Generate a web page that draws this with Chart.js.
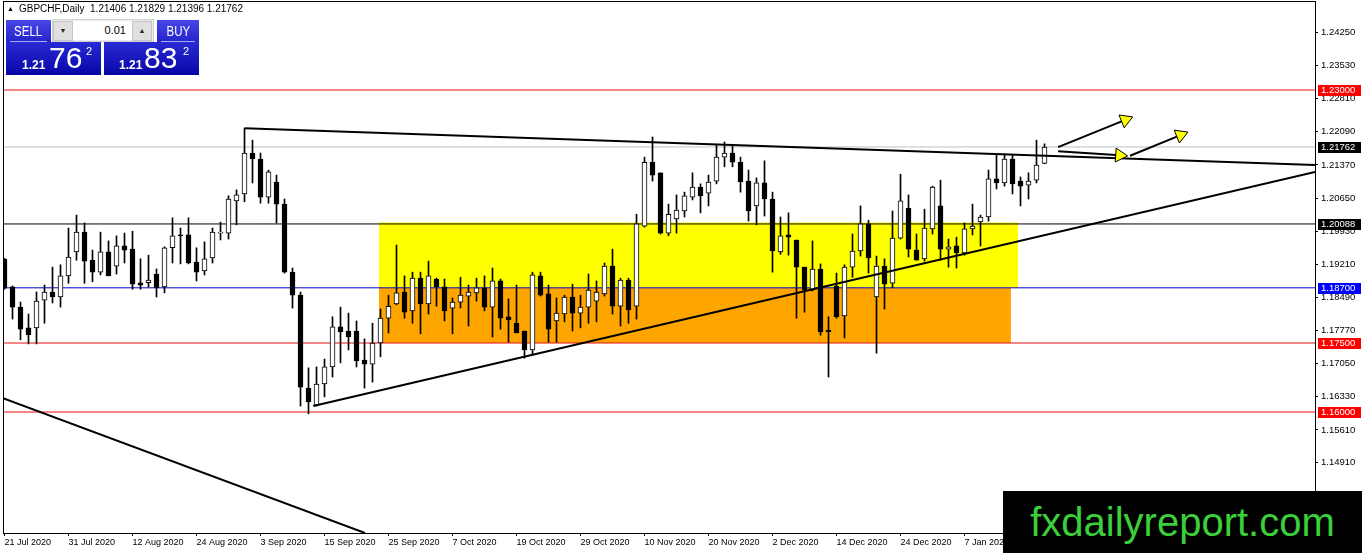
<!DOCTYPE html>
<html lang="en">
<head>
<meta charset="UTF-8">
<title>GBPCHF Daily</title>
<script src="https://cdn.jsdelivr.net/npm/chart.js@4.4.1/dist/chart.umd.min.js"></script>
<style>
    body { margin: 0; background: #fff; font-family: "Liberation Sans", Arial, sans-serif; }
    #wrap { position: relative; width: 1362px; height: 553px; overflow: hidden; }
    #chart { position: absolute; left: 0; top: 0; }
    #caption { position: absolute; left: 7px; top: 3px; font-size: 10px; color: #000; white-space: nowrap; }
    #caption .tri { font-size: 7px; margin-right: 5px; vertical-align: 1px; }
    .lbl { position: absolute; top: 20px; height: 22px; color: #fff; font-size: 14px; line-height: 22px;
           text-align: center; background: linear-gradient(#4646e8, #2424cc); }
    .lbl span { display: inline-block; transform: scaleX(0.82); }
    .lbl::after { content: ''; position: absolute; left: 4px; right: 4px; bottom: 0; height: 1px; background: #a8a8f0; }
    #sellLbl { left: 6px; width: 45px; }
    #buyLbl { left: 157px; width: 42px; }
    #lot { position: absolute; left: 52px; top: 19px; width: 100px; height: 21px; background: #ececec; border: 1px solid #d0d0d0; }
    #lot .arr { position: absolute; top: 1px; width: 18px; height: 18px; background: #e0e0e0; border: 1px solid #c4c4c4;
                font-size: 7px; line-height: 18px; text-align: center; color: #222; }
    #lot .dn { left: 0px; }
    #lot .up { left: 79px; }
    #lot .val { position: absolute; left: 20px; top: 1px; width: 59px; height: 19px; background: #fff; font-size: 11px;
                line-height: 19px; text-align: right; padding-right: 6px; box-sizing: border-box; color: #000; }
    .px { position: absolute; top: 42px; width: 95px; height: 33px; background: linear-gradient(#2a2ad6, #0606a6); color: #fff; }
    #sellPx { left: 6px; }
    #buyPx { left: 104px; }
    .px div { position: absolute; line-height: 1; white-space: nowrap; }
    .px .small { font-size: 12px; font-weight: bold; top: 17px; }
    .px .big { font-size: 30px; top: 1px; }
    .px .sup { font-size: 11px; top: 4px; }
    #mark { position: absolute; left: 1003px; top: 491px; width: 359px; height: 62px; background: #000;
            color: #3ccf3c; font-size: 40px; line-height: 62px; text-align: center; }
</style>
</head>
<body>
<div id="wrap">
    <canvas id="chart" width="1362" height="553"></canvas>
    <div id="caption"><span class="tri">&#9650;</span>GBPCHF,Daily&nbsp; 1.21406 1.21829 1.21396 1.21762</div>
    <div class="lbl" id="sellLbl"><span>SELL</span></div>
    <div id="lot"><div class="arr dn">&#9660;</div><div class="val">0.01</div><div class="arr up">&#9650;</div></div>
    <div class="lbl" id="buyLbl"><span>BUY</span></div>
    <div class="px" id="sellPx"><div class="small" style="left:16px">1.21</div><div class="big" style="left:43px">76</div><div class="sup" style="left:80px">2</div></div>
    <div class="px" id="buyPx"><div class="small" style="left:15px">1.21</div><div class="big" style="left:40px">83</div><div class="sup" style="left:79px">2</div></div>
    <div id="mark">fxdailyreport.com</div>
</div>

<script type="text/javascript">
// date labels under the axis, one every 8 bars
var dateLabels = ["21 Jul 2020", "31 Jul 2020", "12 Aug 2020", "24 Aug 2020", "3 Sep 2020", "15 Sep 2020",
    "25 Sep 2020", "7 Oct 2020", "19 Oct 2020", "29 Oct 2020", "10 Nov 2020", "20 Nov 2020",
    "2 Dec 2020", "14 Dec 2020", "24 Dec 2020", "7 Jan 2021"];
var dateIdx = [0, 8, 16, 24, 32, 40, 48, 56, 64, 72, 80, 88, 96, 104, 112, 120];

// price scale labels
var priceTicks = [1.24250, 1.23530, 1.22810, 1.22090, 1.21370, 1.20650, 1.19930, 1.19210,
    1.18490, 1.17770, 1.17050, 1.16330, 1.15610, 1.14910];

// daily candles (bar 0 = 21 Jul 2020)
var openP = [1.1932,1.1872,1.1828,1.1783,1.1783,1.1843,1.1861,1.1850,1.1896,1.1948,
    1.1991,1.1930,1.1904,1.1948,1.1917,1.1961,1.1954,1.1881,1.1881,1.1900,
    1.1872,1.1957,1.1985,1.1985,1.1926,1.1907,1.1935,1.1989,1.1989,1.2059,
    1.2074,1.2163,1.2150,1.2067,1.2100,1.2052,1.1904,1.1854,1.1652,1.1615,
    1.1661,1.1698,1.1785,1.1776,1.1776,1.1713,1.1704,1.1750,1.1804,1.1835,
    1.1861,1.1820,1.1891,1.1835,1.1889,1.1872,1.1826,1.1839,1.1852,1.1859,
    1.1870,1.1828,1.1885,1.1807,1.1793,1.1776,1.1735,1.1896,1.1857,1.1798,
    1.1813,1.1850,1.1815,1.1828,1.1841,1.1857,1.1917,1.1830,1.1887,1.1830,
    1.2004,1.2143,1.2120,1.1989,1.2020,1.2037,1.2067,1.2089,1.2076,1.2102,
    1.2154,1.2163,1.2143,1.2102,1.2048,1.2098,1.2063,1.1948,1.1985,1.1974,
    1.1915,1.1867,1.1911,1.1778,1.1874,1.1809,1.1915,1.1950,1.2009,1.1850,
    1.1917,1.1880,1.1978,1.2043,1.1952,1.1933,1.1998,1.2048,1.1954,1.1961,
    1.1946,1.1998,1.2013,1.2024,1.2107,1.2098,1.2150,1.2102,1.2093,1.2104,
    1.21406];
var highP = [1.1934,1.1874,1.1839,1.1813,1.1861,1.1876,1.1915,1.1920,1.2000,1.2028,
    1.2011,1.1952,1.1991,1.1972,1.1983,1.1989,1.1993,1.1933,1.1941,1.1911,
    1.1959,1.2022,1.2000,1.2022,1.1957,1.1970,1.2000,1.2013,1.2070,1.2083,
    1.2217,1.2191,1.2163,1.2126,1.2115,1.2063,1.1913,1.1861,1.1696,1.1698,
    1.1715,1.1807,1.1828,1.1815,1.1798,1.1759,1.1793,1.1824,1.1854,1.1963,
    1.1896,1.1904,1.1904,1.1928,1.1891,1.1889,1.1848,1.1893,1.1876,1.1891,
    1.1896,1.1913,1.1889,1.1846,1.1876,1.1776,1.1904,1.1904,1.1876,1.1848,
    1.1854,1.1878,1.1854,1.1900,1.1885,1.1924,1.1954,1.1891,1.1891,1.2030,
    1.2154,1.2198,1.2120,1.2052,1.2072,1.2078,1.2120,1.2096,1.2115,1.2180,
    1.2187,1.2180,1.2154,1.2126,1.2109,1.2146,1.2078,1.2024,1.2033,1.1974,
    1.1915,1.1972,1.1922,1.1807,1.1902,1.1920,1.1987,1.2048,1.2017,1.1939,
    1.1933,1.2037,1.2117,1.2072,1.1987,1.2041,1.2091,1.2104,1.1976,1.1980,
    1.2011,1.2052,1.2028,1.2126,1.2161,1.2161,1.2159,1.2111,1.2120,1.2191,
    1.21829];
var lowP = [1.1867,1.1802,1.1757,1.1748,1.1748,1.1793,1.1837,1.1828,1.1880,1.1930,
    1.1880,1.1883,1.1898,1.1896,1.1900,1.1924,1.1867,1.1867,1.1872,1.1850,
    1.1859,1.1924,1.1922,1.1922,1.1885,1.1898,1.1924,1.1974,1.1976,1.2007,
    1.2057,1.2098,1.2054,1.2054,1.2011,1.1902,1.1826,1.1613,1.1596,1.1613,
    1.1633,1.1676,1.1707,1.1735,1.1698,1.1652,1.1665,1.1720,1.1772,1.1833,
    1.1804,1.1793,1.1770,1.1813,1.1830,1.1798,1.1770,1.1826,1.1787,1.1841,
    1.1820,1.1763,1.1780,1.1752,1.1772,1.1717,1.1726,1.1852,1.1752,1.1752,
    1.1796,1.1776,1.1783,1.1793,1.1796,1.1852,1.1813,1.1787,1.1793,1.1802,
    1.2002,1.2102,1.1987,1.1983,1.1989,1.2024,1.2061,1.2033,1.2048,1.2096,
    1.2133,1.2133,1.2078,1.2015,1.2007,1.2026,1.1904,1.1943,1.1941,1.1804,
    1.1817,1.1863,1.1767,1.1676,1.1804,1.1761,1.1893,1.1939,1.1902,1.1728,
    1.1824,1.1870,1.1976,1.1937,1.1930,1.1928,1.1987,1.1930,1.1915,1.1913,
    1.1941,1.1985,1.1961,1.2015,1.2085,1.2091,1.2074,1.2048,1.2063,1.2098,
    1.21396];
var closeP = [1.1869,1.1828,1.1780,1.1768,1.1841,1.1861,1.1850,1.1896,1.1937,1.1991,
    1.1928,1.1904,1.1948,1.1896,1.1961,1.1952,1.1878,1.1876,1.1887,1.1870,
    1.1957,1.1983,1.1983,1.1924,1.1904,1.1933,1.1991,1.1991,1.2063,1.2072,
    1.2163,1.2150,1.2067,1.2122,1.2052,1.1904,1.1854,1.1654,1.1622,1.1661,
    1.1698,1.1785,1.1774,1.1763,1.1711,1.1704,1.1750,1.1804,1.1830,1.1859,
    1.1817,1.1891,1.1835,1.1896,1.1872,1.1820,1.1839,1.1854,1.1861,1.1870,
    1.1828,1.1885,1.1804,1.1800,1.1772,1.1735,1.1898,1.1854,1.1780,1.1815,
    1.1850,1.1815,1.1828,1.1865,1.1861,1.1917,1.1830,1.1887,1.1822,1.2009,
    1.2143,1.2115,1.1989,1.2030,1.2039,1.2070,1.2089,1.2070,1.2100,1.2154,
    1.2163,1.2143,1.2100,1.2037,1.2098,1.2063,1.1950,1.1983,1.1980,1.1915,
    1.1865,1.1911,1.1774,1.1774,1.1807,1.1915,1.1950,1.2009,1.1935,1.1917,
    1.1878,1.1978,1.2059,1.1954,1.1930,1.2000,1.2089,1.1954,1.1959,1.1946,
    1.1998,1.2004,1.2024,1.2107,1.2098,1.2150,1.2096,1.2091,1.2102,1.2137,
    1.21762];

// horizontal levels
var levelValues = [1.23000, 1.21762, 1.20088, 1.18700, 1.17500, 1.16000];
var levelColors = ["#e81010", "#c0c0c0", "#000000", "#0000c8", "#e81010", "#e81010"];
var tagColors = ["#ff0000", "#000000", "#000000", "#0000ff", "#ff0000", "#ff0000"];

// rectangles: yellow and orange zones
var zoneFrom = [46.8, 46.8];
var zoneTo = [126.7, 125.8];
var zoneTop = [1.2012, 1.1870];
var zoneBottom = [1.1870, 1.1750];
var zoneColors = ["#ffff00", "#ffa500"];

// trend lines [bar1, price1, bar2, price2]
var xMin = -0.1875, xMax = 163.8125;
var trendLines = [
    [30, 1.2217, xMax, 1.2137],
    [38.6, 1.1613, xMax, 1.2122],
    [xMin, 1.1630, 45.06, 1.1337]
];

// arrows [bar1, price1, bar2, price2]
var arrows = [
    [131.7, 1.2176, 140.1, 1.2235],
    [131.7, 1.2167, 139.4, 1.2158],
    [140.7, 1.2157, 147.0, 1.2202]
];
var arrowTurn = [68, 94, 68];

var datasets = [];

//zone rectangles, drawn first
for (var z = 0; z < zoneFrom.length; z++) {
    datasets.push({
        type: 'line',
        data: [{x: zoneFrom[z], y: zoneTop[z]}, {x: zoneTo[z], y: zoneTop[z]}],
        borderWidth: 0,
        pointRadius: 0,
        backgroundColor: zoneColors[z],
        fill: {value: zoneBottom[z]},
        order: 100 - z
    });
}

for (var k = 0; k < levelValues.length; k++) {
    datasets.push({
        type: 'line',
        data: [{x: xMin, y: levelValues[k]}, {x: xMax, y: levelValues[k]}],
        borderColor: levelColors[k],
        borderWidth: 1,
        pointRadius: 0,
        fill: false,
        order: 80
    });
}

var wicks = [], bodies = [], bodyColors = [];
for (var i = 0; i < openP.length; i++) {
    wicks.push({x: i, y: [lowP[i], highP[i]]});
    bodies.push({x: i, y: [openP[i], closeP[i]]});
    bodyColors.push(closeP[i] >= openP[i] ? "#ffffff" : "#000000");
}
datasets.push({
    type: 'bar', data: wicks, backgroundColor: "#000", borderWidth: 0,
    barThickness: 1, grouped: false, order: 50
});
datasets.push({
    type: 'bar', data: bodies, backgroundColor: bodyColors, borderColor: "#000",
    borderWidth: 1, borderSkipped: false, barThickness: 5, minBarLength: 1, grouped: false, order: 40
});

for (var t = 0; t < trendLines.length; t++) {
    var tl = trendLines[t];
    datasets.push({
        type: 'line',
        data: [{x: tl[0], y: tl[1]}, {x: tl[2], y: tl[3]}],
        borderColor: "#000", borderWidth: 2, pointRadius: 0, fill: false, order: 10
    });
}

for (var a = 0; a < arrows.length; a++) {
    var ar = arrows[a];
    datasets.push({
        type: 'line',
        data: [{x: ar[0], y: ar[1]}, {x: ar[2], y: ar[3]}],
        borderColor: "#000", borderWidth: 2, fill: false,
        pointRadius: [0, 8], pointStyle: 'triangle', pointRotation: [0, arrowTurn[a]],
        pointBackgroundColor: "#ffff00", pointBorderColor: "#000", pointBorderWidth: 1,
        order: 5
    });
}

//cornice e etichette colorate sull'asse dei prezzi
var tagPlugin = {
    id: 'priceTags',
    afterDraw: function(chart) {
        var ctx = chart.ctx, area = chart.chartArea, yScale = chart.scales.y;
        ctx.save();
        ctx.strokeStyle = "#000";
        ctx.lineWidth = 1;
        ctx.strokeRect(area.left + 0.5, area.top + 0.5, area.right - area.left, area.bottom - area.top);
        ctx.font = '9.5px "Liberation Sans", Arial, sans-serif';
        ctx.textBaseline = 'middle';
        ctx.textAlign = 'left';
        for (var n = 0; n < levelValues.length; n++) {
            var y = Math.round(yScale.getPixelForValue(levelValues[n]));
            ctx.fillStyle = tagColors[n];
            ctx.fillRect(area.right + 3, y - 5, 43, 11);
            ctx.fillStyle = "#fff";
            ctx.fillText(levelValues[n].toFixed(5), area.right + 6, y + 0.5);
        }
        ctx.restore();
    }
};

var axisFont = {family: "Liberation Sans", size: 9.5};

new Chart(document.getElementById('chart'), {
    type: 'bar',
    data: {datasets: datasets},
    plugins: [tagPlugin],
    options: {
        responsive: false,
        animation: false,
        devicePixelRatio: 1,
        events: [],
        layout: {autoPadding: false, padding: {left: 3, top: 1, right: 0, bottom: 0}},
        plugins: {legend: {display: false}, tooltip: {enabled: false}, title: {display: false}},
        scales: {
            x: {
                type: 'linear', position: 'bottom', min: xMin, max: xMax, offset: false,
                afterBuildTicks: function(s) { s.ticks = dateIdx.map(function(v) { return {value: v}; }); },
                afterFit: function(s) { s.height = 20; s.paddingLeft = 0; s.paddingRight = 0; },
                ticks: {
                    callback: function(v, idx) { return dateLabels[idx]; },
                    align: 'start', autoSkip: false, maxRotation: 0, minRotation: 0,
                    color: "#000", font: {family: "Liberation Sans", size: 9}, padding: 1
                },
                grid: {drawOnChartArea: false, offset: false, tickLength: 3, color: "#000"},
                border: {color: "#000"}
            },
            y: {
                type: 'linear', position: 'right', min: 1.1337, max: 1.24935, beginAtZero: false,
                afterBuildTicks: function(s) { s.ticks = priceTicks.map(function(v) { return {value: v}; }); },
                afterFit: function(s) { s.width = 47; s.paddingTop = 0; s.paddingBottom = 0; },
                ticks: {
                    callback: function(v, idx) { return priceTicks[idx].toFixed(5); },
                    autoSkip: false, color: "#000", font: axisFont, padding: 3
                },
                grid: {drawOnChartArea: false, tickLength: 3, color: "#000"},
                border: {color: "#000"}
            }
        }
    }
});
</script>
</body>
</html>
